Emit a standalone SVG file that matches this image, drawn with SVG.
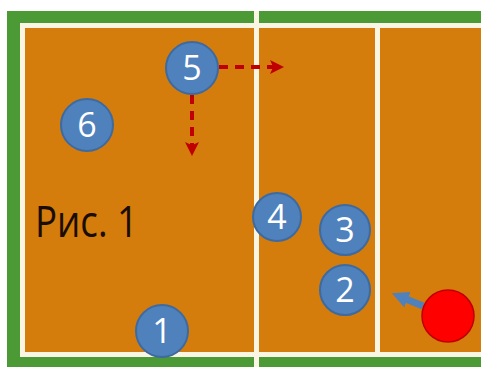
<svg xmlns="http://www.w3.org/2000/svg" width="481" height="367" viewBox="0 0 481 367">
<defs>
<style>
.pl circle{fill:#4f81bd;stroke:#3d6aa0;stroke-width:2}
.pl text{fill:#fff;font-family:"Open Sans","Liberation Sans",sans-serif;font-size:34px;text-anchor:middle}
.dash{stroke:#c00000;stroke-width:4;stroke-dasharray:9 7;fill:none}
</style>
<marker id="ah" markerWidth="3.5" markerHeight="3.5" refX="1.5" refY="1.75" orient="auto" markerUnits="strokeWidth">
<path d="M0,0 L3.5,1.75 L0,3.5 L0.8,1.75 z" fill="#c00000"/>
</marker>
<marker id="bh" markerWidth="2.4" markerHeight="2.4" refX="1" refY="1.2" orient="auto" markerUnits="strokeWidth">
<path d="M0,0 L2.4,1.2 L0,2.4 z" fill="#4f81bd"/>
</marker>
</defs>
<rect width="481" height="367" fill="#fff"/>
<g id="court">
<rect x="7" y="11" width="474" height="356" fill="#4b9a35"/>
<rect x="20" y="23" width="461" height="334" fill="#fbf6e4"/>
<rect x="25" y="28" width="456" height="324" fill="#d47c0c"/>
<rect x="254" y="11" width="5" height="356" fill="#fbf6e4"/>
<rect x="375" y="27" width="5" height="326" fill="#fbf6e4"/>
</g>
<text x="35" y="237" font-family="Open Sans,Liberation Sans,sans-serif" font-size="44" fill="#1a0d00" textLength="103" lengthAdjust="spacingAndGlyphs">Рис. 1</text>
<g id="connectors">
<line class="dash" x1="219" y1="67" x2="276" y2="67" marker-end="url(#ah)"/>
<line class="dash" x1="192" y1="95" x2="192" y2="148" marker-end="url(#ah)"/>
<line x1="423" y1="306" x2="401" y2="297" stroke="#4f81bd" stroke-width="7" marker-end="url(#bh)"/>
</g>
<g id="p5" class="pl"><circle cx="192" cy="68" r="26"/><text x="192" y="80">5</text></g>
<g id="p6" class="pl"><circle cx="87" cy="125" r="26"/><text x="87" y="137">6</text></g>
<g id="p4" class="pl"><circle cx="277" cy="217" r="24"/><text x="277" y="229">4</text></g>
<g id="p3" class="pl"><circle cx="345" cy="230" r="25"/><text x="345" y="242">3</text></g>
<g id="p2" class="pl"><circle cx="345" cy="290" r="25"/><text x="345" y="302">2</text></g>
<g id="p1" class="pl"><circle cx="162" cy="331" r="26"/><text x="162" y="343">1</text></g>
<g id="ball"><circle cx="448" cy="316" r="26" fill="#ff0000" stroke="#c00000" stroke-width="1.5"/></g>
</svg>
